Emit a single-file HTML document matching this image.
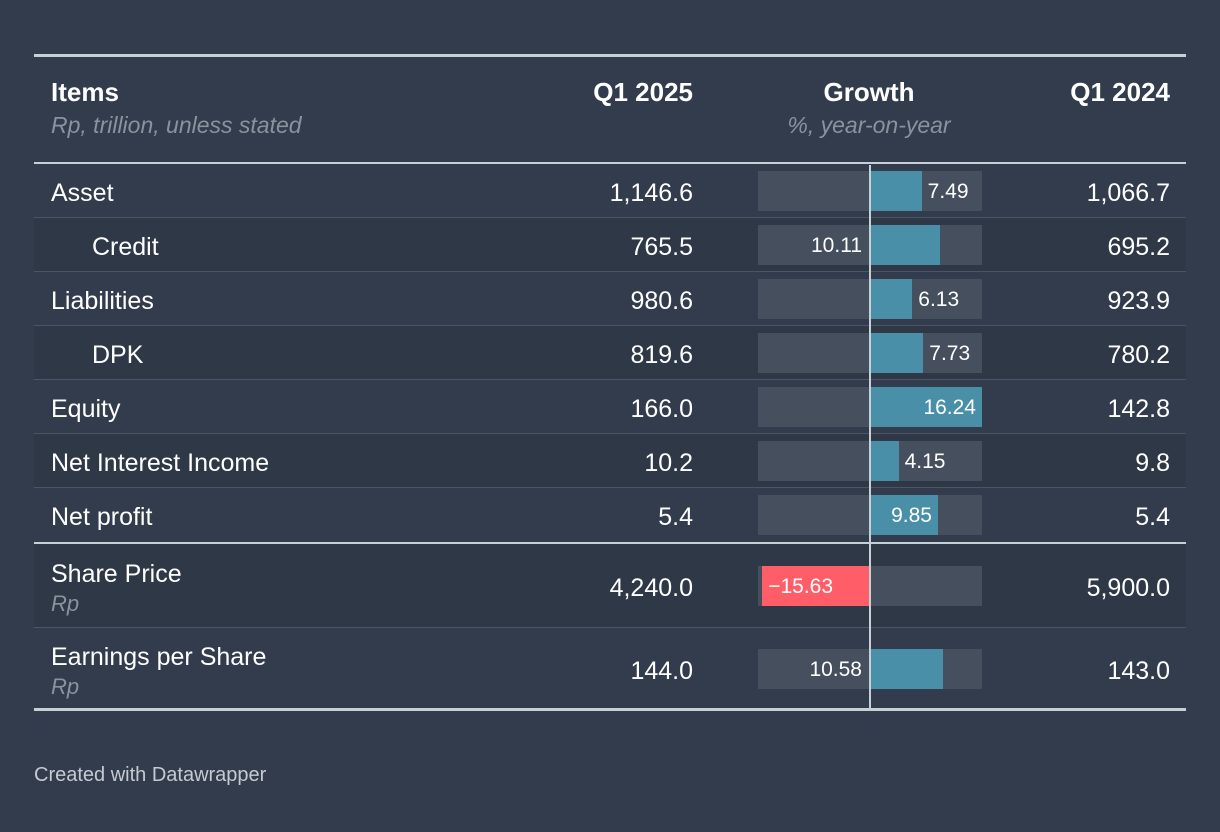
<!DOCTYPE html>
<html><head><meta charset="utf-8">
<style>
body{margin:0;width:1220px;height:832px;background:#333c4d;font-family:"Liberation Sans",sans-serif;color:#fff;position:relative;overflow:hidden}
.abs{position:absolute}
.hline{position:absolute;left:34px;width:1152px}
.row{position:absolute;left:34px;width:1152px;border-bottom:1px solid #4b5565;box-sizing:border-box}
.lbl{position:absolute;font-size:25px;white-space:nowrap}
.num{position:absolute;font-size:25px;text-align:right}
.sub{position:absolute;font-size:22px;font-style:italic;color:#8a929e}
.bv{position:absolute;font-size:21px;color:#fff}
</style></head><body>
<div class="hline" style="top:54px;height:3px;background:#c4d1d7"></div>
<div class="lbl" style="left:51px;top:77px;font-weight:bold;font-size:26px">Items</div>
<div class="sub" style="left:51px;top:112px;font-size:23px">Rp, trillion, unless stated</div>
<div class="num" style="right:527px;top:77px;font-weight:bold;font-size:26px">Q1 2025</div>
<div class="num" style="left:769px;width:200px;text-align:center;top:77px;font-weight:bold;font-size:26px">Growth</div>
<div class="sub" style="left:769px;width:200px;text-align:center;top:112px;font-size:23px">%, year-on-year</div>
<div class="num" style="right:50px;top:77px;font-weight:bold;font-size:26px">Q1 2024</div>
<div class="hline" style="top:162px;height:3px;background:#c4d1d7"></div>
<div id="rows"></div>
<div class="hline" style="top:542px;height:2px;background:#c4d1d7"></div>
<div class="hline" style="top:708px;height:3px;background:#c4d1d7"></div>
<div class="abs" style="left:869px;top:165px;width:2px;height:544px;background:#c4d1d7"></div>
<div class="abs" style="left:34px;top:764px;font-size:20px;color:#c5cad2">Created with Datawrapper</div>
<script>
const items=["Asset","Credit","Liabilities","DPK","Equity","Net Interest Income","Net profit","Share Price","Earnings per Share"];
const q2025=["1,146.6","765.5","980.6","819.6","166.0","10.2","5.4","4,240.0","144.0"];
const growth=[7.49,10.11,6.13,7.73,16.24,4.15,9.85,-15.63,10.58];
const q2024=["1,066.7","695.2","923.9","780.2","142.8","9.8","5.4","5,900.0","143.0"];
const indent=[0,1,0,1,0,0,0,0,0];
const subs=["","","","","","","","Rp","Rp"];
const labelLeft=[0,1,0,0,0,0,0,0,1];
const maxAbs=16.24;
const center=870;
function x(v){return center+v/maxAbs*112;}
const root=document.getElementById('rows');
items.forEach((it,i)=>{
  const h=i<7?54:(i===7?84:82);
  const top=i<7?164+i*54:(i===7?544:628);
  const r=document.createElement('div');
  r.className='row';
  
  
  r.style.top=top+'px';r.style.height=h+'px';
  r.style.background=(i%2===1)?'#2f3847':'#333c4d';
  if(i===8||i===6)r.style.borderBottom='none';
  root.appendChild(r);
  const mid=top+h/2;
  const hasSub=subs[i]!=='';
  const l=document.createElement('div');l.className='lbl';
  
  
  l.textContent=it;l.style.left=(51+indent[i]*41)+'px';l.style.top=(hasSub?mid-26:mid-12)+'px';
  root.appendChild(l);
  if(hasSub){const s=document.createElement('div');s.className='sub';
    
    
    s.textContent=subs[i];s.style.left='51px';s.style.top=(mid+5)+'px';root.appendChild(s);}
  const a=document.createElement('div');a.className='num';
  
  
  a.textContent=q2025[i];a.style.right='527px';a.style.top=(mid-12)+'px';root.appendChild(a);
  const b=document.createElement('div');b.className='num';
  
  
  b.textContent=q2024[i];b.style.right='50px';b.style.top=(mid-12)+'px';root.appendChild(b);
  const bg=document.createElement('div');bg.className='abs';
  
  
  bg.style.cssText=`left:758px;width:224px;top:${mid-20}px;height:40px;background:#454f5d`;root.appendChild(bg);
  const v=growth[i];const x0=Math.min(x(0),x(v)),x1=Math.max(x(0),x(v));
  const bar=document.createElement('div');bar.className='abs';
  
  
  bar.style.cssText=`left:${x0}px;width:${x1-x0}px;top:${mid-20}px;height:40px;background:${v<0?'#ff5d67':'#4a8fa8'}`;root.appendChild(bar);
  const t=document.createElement('div');t.className='bv';
  
  
  t.textContent=v<0?'\u2212'+Math.abs(v).toFixed(2):v.toFixed(2);
  t.style.top=(mid-11)+'px';
  if(v<0){t.style.left=(x(v)+6)+'px';}
  else if(labelLeft[i]){t.style.right=(1220-center+8)+'px';}
  else if(x(v)+58>982){t.style.right=(1220-x(v)+6)+'px';}
  else{t.style.left=(x(v)+6)+'px';}
  root.appendChild(t);
});
</script>
</body></html>
